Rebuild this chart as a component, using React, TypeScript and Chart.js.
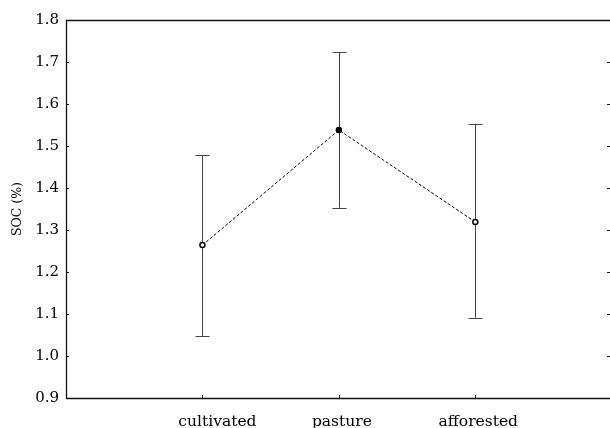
import React, { useEffect, useRef } from "react";
import { Chart, registerables } from "chart.js";

Chart.register(...registerables);

const categories = ["cultivated", "pasture", "afforested"];
const means = [1.264, 1.538, 1.319];
const upper = [1.479, 1.723, 1.553];
const lower = [1.048, 1.353, 1.091];
const yTicks = [0.9, 1.0, 1.1, 1.2, 1.3, 1.4, 1.5, 1.6, 1.7, 1.8];
const yTitle = "SOC (%)";

const FONT = "'DejaVu Serif', serif";
// horizontal nudge of each category label relative to its tick (as in the reference)
const labelNudge = [15, 3, 3];

const framePlugin = {
  id: "frame",
  beforeDatasetsDraw(chart: any) {
    const { ctx, chartArea, scales } = chart;
    const { left, right, top, bottom } = chartArea;
    const x = scales.x;
    const y = scales.y;
    ctx.save();
    // error bars
    ctx.strokeStyle = "#444";
    ctx.lineWidth = 1;
    categories.forEach((_, i) => {
      const px = Math.round(x.getPixelForValue(i + 1)) + 0.5;
      const pu = y.getPixelForValue(upper[i]);
      const pl = y.getPixelForValue(lower[i]);
      ctx.beginPath();
      ctx.moveTo(px, pu);
      ctx.lineTo(px, pl);
      ctx.moveTo(px - 7, Math.round(pu) + 0.5);
      ctx.lineTo(px + 7, Math.round(pu) + 0.5);
      ctx.moveTo(px - 7, Math.round(pl) + 0.5);
      ctx.lineTo(px + 7, Math.round(pl) + 0.5);
      ctx.stroke();
    });
    // frame
    ctx.strokeStyle = "#111";
    ctx.lineWidth = 1.3;
    ctx.beginPath();
    ctx.moveTo(right + 2, Math.round(top) + 0.5);
    ctx.lineTo(Math.round(left) + 0.5, Math.round(top) + 0.5);
    ctx.lineTo(Math.round(left) + 0.5, Math.round(bottom) + 0.5);
    ctx.lineTo(right + 2, Math.round(bottom) + 0.5);
    ctx.stroke();
    ctx.lineWidth = 1;
    ctx.beginPath();
    yTicks.forEach((v) => {
      const py = Math.round(y.getPixelForValue(v)) + 0.5;
      ctx.moveTo(left, py);
      ctx.lineTo(left + 3, py);
      ctx.moveTo(right - 2, py);
      ctx.lineTo(right + 1, py);
    });
    categories.forEach((_, i) => {
      const px = Math.round(x.getPixelForValue(i + 1)) + 0.5;
      ctx.moveTo(px, bottom);
      ctx.lineTo(px, bottom - 3);
    });
    ctx.stroke();
    // category labels
    ctx.fillStyle = "#000";
    ctx.font = `15.5px ${FONT}`;
    ctx.textAlign = "center";
    ctx.textBaseline = "alphabetic";
    categories.forEach((c, i) => {
      const px = x.getPixelForValue(i + 1) + labelNudge[i];
      ctx.fillText(c, px, bottom + 28);
    });
    ctx.restore();
  },
};

export default function App() {
  const ref = useRef<HTMLCanvasElement>(null);
  useEffect(() => {
    if (!ref.current) return;
    const chart = new Chart(ref.current, {
      type: "line",
      data: {
        datasets: [
          {
            data: means.map((m, i) => ({ x: i + 1, y: m })),
            borderColor: "#000",
            borderWidth: 1,
            borderDash: [3, 2],
            pointRadius: 2.5,
            pointBorderWidth: 1.5,
            pointBorderColor: "#000",
            pointBackgroundColor: ["#fff", "#000", "#fff"],
            fill: false,
            tension: 0,
          },
        ],
      },
      options: {
        responsive: false,
        animation: false,
        events: [],
        layout: { autoPadding: false, padding: { left: 0, top: 20, right: 1, bottom: 0 } },
        plugins: { legend: { display: false }, tooltip: { enabled: false } },
        scales: {
          x: {
            type: "linear",
            min: 0,
            max: 3.98,
            grid: { display: false, drawTicks: false, tickLength: 0 },
            border: { display: false },
            afterBuildTicks: (s: any) => {
              s.ticks = categories.map((_, i) => ({ value: i + 1 }));
            },
            afterFit: (s: any) => {
              s.height = 30;
            },
            ticks: { display: false },
          },
          y: {
            min: 0.9,
            max: 1.8,
            grid: { display: false, drawTicks: false, tickLength: 0 },
            border: { display: false },
            afterBuildTicks: (s: any) => {
              s.ticks = yTicks.map((v) => ({ value: v }));
            },
            afterFit: (s: any) => {
              s.width = 66;
            },
            title: {
              display: true,
              text: yTitle,
              color: "#000",
              font: { family: FONT, size: 12.5 },
              padding: { top: 10, bottom: 0 },
            },
            ticks: {
              padding: 7,
              color: "#000",
              font: { family: FONT, size: 15 },
              callback: (v: any) => Number(v).toFixed(1),
            },
          },
        },
      },
      plugins: [framePlugin],
    });
    return () => chart.destroy();
  }, []);
  return (
    <div style={{ position: "absolute", left: 0, top: 0, width: 610, height: 428, background: "#fff" }}>
      <canvas ref={ref} width={610} height={428} />
    </div>
  );
}
